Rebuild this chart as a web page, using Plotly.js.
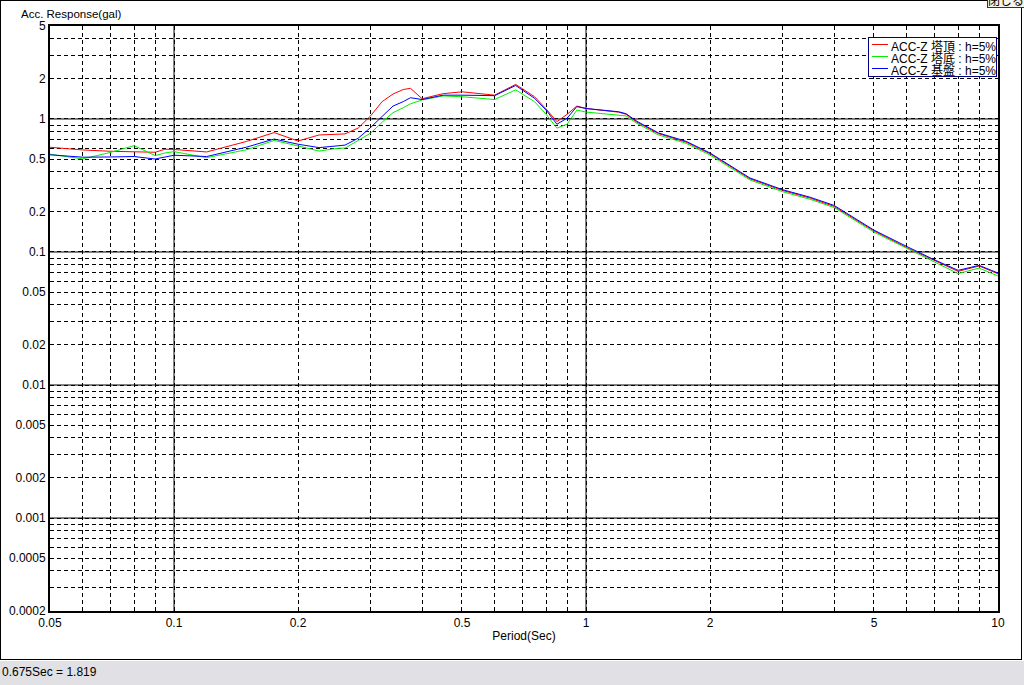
<!DOCTYPE html>
<html>
<head>
<meta charset="utf-8">
<script src="https://cdn.plot.ly/plotly-3.0.1.min.js"></script>
<style>
  html, body { margin: 0; padding: 0; background: #fff; }
  #wrap { position: relative; width: 1024px; height: 685px; overflow: hidden; background: #fff; }
  #chart { position: absolute; left: 0; top: 0; width: 1024px; height: 685px; }
  #frame { position: absolute; left: 0; top: 0; width: 1020px; height: 658px; border: 1px solid #000; pointer-events: none; }
  #closebtn { position: absolute; left: 987px; top: -9px; width: 36px; height: 15px; border: 1px solid #333; background: #f6f4ec;
              font: 12px 'Noto Sans CJK JP', sans-serif; line-height: 15px; text-align: center; color: #000; }
  #status { position: absolute; left: 0; top: 661px; width: 1024px; height: 24px; background: #e0e0e5;
            font: 12px 'Liberation Sans Narrow', 'Liberation Sans', 'Noto Sans CJK JP', sans-serif; line-height: 22px; color: #000; padding-left: 2px; box-sizing: border-box; }
  #legend { position: absolute; left: 868px; top: 37px; width: 127px; height: 38px; border: 1px solid #000080; background: #fff; }
  #legend .row { position: absolute; left: 0; height: 12px; width: 127px; }
  #legend .sample { position: absolute; left: 3px; top: 6px; width: 16px; height: 1px; }
  #legend .label { position: absolute; left: 22px; top: -1px; white-space: nowrap; line-height: 14px;
                   font: 12px 'Liberation Sans Narrow', 'Liberation Sans', 'Noto Sans CJK JP', sans-serif; color: #000; }
</style>
</head>
<body>
<div id="wrap">
  <div id="chart"></div>
  <div id="frame"></div>
  <div id="legend"></div>
  <div id="closebtn">閉じる</div>
  <div id="status"></div>
</div>
<script>
// ---- data ----
const periods = [0.05, 0.06, 0.07, 0.08, 0.09, 0.095, 0.1, 0.12, 0.15, 0.175, 0.2, 0.225, 0.25, 0.26, 0.28, 0.3, 0.32, 0.34, 0.36, 0.375, 0.4, 0.45, 0.5, 0.55, 0.6, 0.675, 0.75, 0.8, 0.85, 0.9, 0.95, 1.0, 1.2, 1.25, 1.33, 1.5, 1.75, 2.0, 2.5, 3.0, 3.5, 4.0, 5.0, 6.0, 7.0, 8.0, 9.0, 10.0];
const accTop = [0.613, 0.585, 0.572, 0.568, 0.562, 0.592, 0.59, 0.565, 0.678, 0.79, 0.683, 0.758, 0.77, 0.772, 0.855, 1.055, 1.35, 1.54, 1.665, 1.70, 1.42, 1.55, 1.60, 1.55, 1.51, 1.819, 1.47, 1.19, 0.955, 1.085, 1.25, 1.2, 1.125, 1.085, 0.945, 0.775, 0.67, 0.548, 0.355, 0.29, 0.254, 0.22, 0.144, 0.108, 0.086, 0.0715, 0.0785, 0.0685];
const accBase = [0.543, 0.501, 0.56, 0.63, 0.53, 0.555, 0.568, 0.512, 0.587, 0.69, 0.627, 0.574, 0.602, 0.604, 0.69, 0.782, 0.945, 1.115, 1.215, 1.30, 1.39, 1.49, 1.47, 1.43, 1.40, 1.655, 1.35, 1.085, 0.853, 0.915, 1.167, 1.127, 1.065, 1.055, 0.926, 0.758, 0.656, 0.536, 0.348, 0.284, 0.249, 0.216, 0.141, 0.1065, 0.0845, 0.0688, 0.0757, 0.066];
const accGround = [0.538, 0.516, 0.518, 0.522, 0.50, 0.52, 0.534, 0.522, 0.614, 0.707, 0.646, 0.609, 0.629, 0.636, 0.717, 0.863, 1.045, 1.25, 1.35, 1.445, 1.40, 1.51, 1.51, 1.51, 1.497, 1.786, 1.43, 1.167, 0.913, 1.015, 1.238, 1.198, 1.133, 1.096, 0.959, 0.785, 0.679, 0.555, 0.36, 0.294, 0.258, 0.224, 0.146, 0.1102, 0.0875, 0.0728, 0.0793, 0.0695];
const seriesNames = ['ACC-Z 塔頂 : h=5%', 'ACC-Z 塔底 : h=5%', 'ACC-Z 基盤 : h=5%'];
const seriesColors = ['#ff0000', '#00f000', '#0000ff'];

const xTickVals = [0.05, 0.1, 0.2, 0.5, 1, 2, 5, 10];
const xTickText = ['0.05', '0.1', '0.2', '0.5', '1', '2', '5', '10'];
const xMinorVals = [0.06, 0.07, 0.08, 0.09, 0.3, 0.4, 0.6, 0.7, 0.8, 0.9, 3, 4, 6, 7, 8, 9];
const xDecades = [0.1, 1];
const yTickVals = [0.0002, 0.0005, 0.001, 0.002, 0.005, 0.01, 0.02, 0.05, 0.1, 0.2, 0.5, 1, 2, 5];
const yTickText = ['0.0002', '0.0005', '0.001', '0.002', '0.005', '0.01', '0.02', '0.05', '0.1', '0.2', '0.5', '1', '2', '5'];
const yMinorVals = [0.0003, 0.0004, 0.0006, 0.0007, 0.0008, 0.0009, 0.003, 0.004, 0.006, 0.007, 0.008, 0.009,
                    0.03, 0.04, 0.06, 0.07, 0.08, 0.09, 0.3, 0.4, 0.6, 0.7, 0.8, 0.9, 3, 4];
const yDecades = [0.001, 0.01, 0.1, 1];
const xRange = [0.05, 10];
const yRange = [0.0002, 5];

// ---- layout helpers ----
const W = 1024, H = 685;
const M = { l: 50, r: 26, t: 26, b: 74 };
const PW = W - M.l - M.r, PH = H - M.t - M.b;
const pxX = px => (px - M.l) / PW;
const pxY = py => (H - M.b - py) / PH;
const FONT = "'Liberation Sans Narrow', 'Liberation Sans', 'Noto Sans CJK JP', sans-serif";
const GRID_DASH = '4px,3px';

const seriesData = [accTop, accBase, accGround];
const traces = seriesData.map((vals, i) => ({
  type: 'scatter', mode: 'lines', x: periods, y: vals, name: seriesNames[i],
  line: { color: seriesColors[i], width: 1 }, showlegend: false, hoverinfo: 'x+y+name'
}));

const shapes = [];
xDecades.forEach(v => shapes.push({ type: 'line', layer: 'below', xref: 'x', yref: 'paper', x0: v, x1: v, y0: 0, y1: 1, line: { color: '#000', width: 1 } }));
yDecades.forEach(v => shapes.push({ type: 'line', layer: 'below', xref: 'paper', yref: 'y', x0: 0, x1: 1, y0: v, y1: v, line: { color: '#000', width: 1 } }));

const annotations = [{
  xref: 'paper', yref: 'paper', x: pxX(19), y: pxY(14), xanchor: 'left', yanchor: 'middle', showarrow: false,
  text: 'Acc. Response(gal)', font: { family: FONT, size: 11.5, color: '#000' }
}];

const axisCommon = {
  type: 'log', showline: true, linecolor: '#000', linewidth: 2, mirror: true, zeroline: false,
  ticks: '', tickmode: 'array', showgrid: true, gridcolor: '#000', gridwidth: 1, griddash: GRID_DASH,
  tickfont: { family: FONT, size: 12, color: '#000' }, fixedrange: true
};

const layout = {
  width: W, height: H, margin: M, paper_bgcolor: 'rgba(0,0,0,0)', plot_bgcolor: '#ffffff',
  font: { family: FONT, size: 12, color: '#000' }, showlegend: false,
  xaxis: Object.assign({}, axisCommon, {
    range: xRange.map(Math.log10), tickvals: xTickVals, ticktext: xTickText,
    minor: { tickmode: 'array', tickvals: xMinorVals, showgrid: true, gridcolor: '#000', gridwidth: 1, griddash: GRID_DASH, ticks: '' },
    title: { text: 'Period(Sec)', font: { family: FONT, size: 12, color: '#000' }, standoff: 2 }
  }),
  yaxis: Object.assign({}, axisCommon, {
    range: yRange.map(Math.log10), tickvals: yTickVals, ticktext: yTickText,
    minor: { tickmode: 'array', tickvals: yMinorVals, showgrid: true, gridcolor: '#000', gridwidth: 1, griddash: GRID_DASH, ticks: '' }
  }),
  shapes: shapes, annotations: annotations
};

Plotly.newPlot('chart', traces, layout, { displayModeBar: false, staticPlot: true });

// legend box (built from the series names and colours)
const legendEl = document.getElementById('legend');
const ROW_TOP = 0, ROW_STEP = 12.2;
seriesNames.forEach((nm, i) => {
  const row = document.createElement('div');
  row.className = 'row';
  row.style.top = (ROW_TOP + i * ROW_STEP) + 'px';
  const s = document.createElement('div');
  s.className = 'sample';
  s.style.background = seriesColors[i];
  const t = document.createElement('div');
  t.className = 'label';
  t.textContent = nm;
  row.appendChild(s); row.appendChild(t);
  legendEl.appendChild(row);
});

// status bar: the readout at the red curve's peak
let iPeak = 0;
accTop.forEach((v, i) => { if (v > accTop[iPeak]) iPeak = i; });
document.getElementById('status').textContent = periods[iPeak] + 'Sec = ' + accTop[iPeak].toFixed(3);
</script>
</body>
</html>
